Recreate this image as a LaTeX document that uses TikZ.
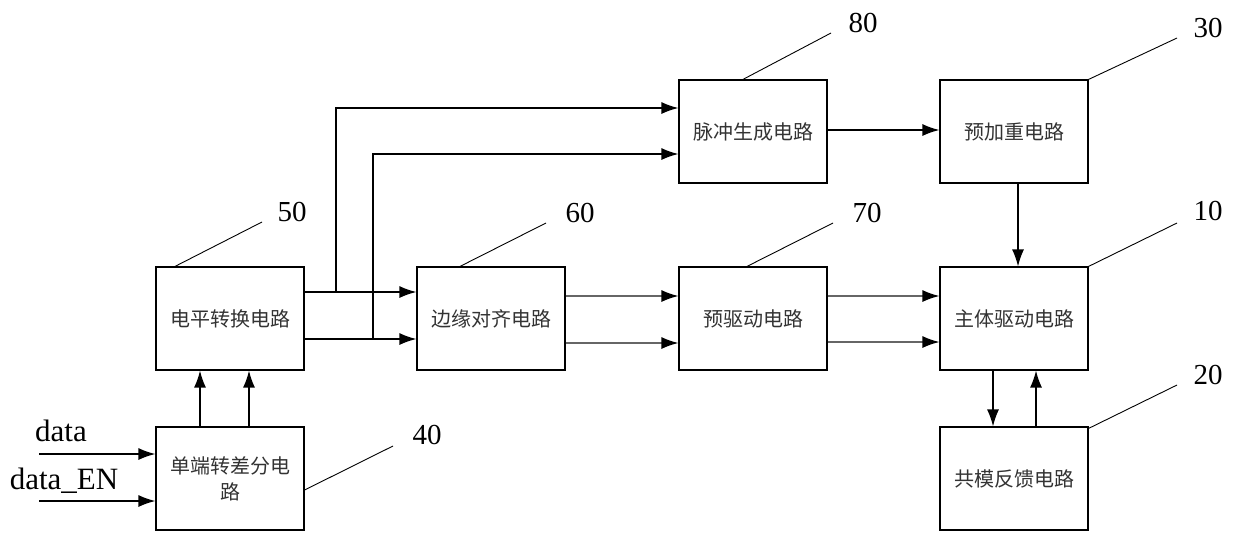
\documentclass[tikz,border=0pt]{standalone}
\usepackage{fontspec}
\setmainfont{Liberation Serif}
\newfontfamily\cjk{Noto Sans CJK SC}
\usetikzlibrary{arrows.meta}
\begin{document}
\begin{tikzpicture}[x=0.5pt,y=-0.5pt,
  blk/.style={draw=black,line width=0.6pt,minimum width=74pt,minimum height=51.5pt,inner sep=0pt,
    font=\cjk\fontsize{10}{13}\selectfont,text=black!80,align=center},
  arr/.style={line width=0.65pt,-{Latex[length=8.5pt,width=6pt,color=black]}},
  garr/.style={arr,draw=black!60},
  lead/.style={line width=0.45pt},
  num/.style={font=\fontsize{14.5}{16}\selectfont,inner sep=0pt},
  lbl/.style={font=\fontsize{15.5}{17}\selectfont,inner sep=0pt}]
\useasboundingbox (0,0) rectangle (1240,547);
% blocks
\node[blk] (n50) at (230,318.5) {电平转换电路};
\node[blk] (n60) at (491,318.5) {边缘对齐电路};
\node[blk] (n70) at (753,318.5) {预驱动电路};
\node[blk] (n10) at (1014,318.5) {主体驱动电路};
\node[blk] (n80) at (753,131.5) {脉冲生成电路};
\node[blk] (n30) at (1014,131.5) {预加重电路};
\node[blk] (n40) at (230,478.5) {单端转差分电\\路};
\node[blk] (n20) at (1014,478.5) {共模反馈电路};
% inputs
\coordinate (in1) at (39,454);
\coordinate (in2) at (39,501);
\node[lbl] (tdata) at (61,431) {data};
\node[lbl] (tdataen) at (64,481) {data\_EN};
\draw[arr] (in1) -- (n40.west |- in1);
\draw[arr] (in2) -- (n40.west |- in2);
% 40 -> 50
\draw[arr] (n40.north -| 200,0) -- (n50.south -| 200,0);
\draw[arr] (n40.north -| 249,0) -- (n50.south -| 249,0);
% 50 -> 60
\draw[arr] (n50.east |- 0,292) -- (n60.west |- 0,292);
\draw[arr] (n50.east |- 0,339) -- (n60.west |- 0,339);
% branches to 80
\coordinate (b1) at (336,292);
\coordinate (b2) at (373,339);
\draw[arr] (b1) |- (n80.west |- 0,108);
\draw[arr] (b2) |- (n80.west |- 0,154);
% 60 -> 70
\draw[garr] (n60.east |- 0,296) -- (n70.west |- 0,296);
\draw[garr] (n60.east |- 0,343) -- (n70.west |- 0,343);
% 70 -> 10
\draw[garr] (n70.east |- 0,296) -- (n10.west |- 0,296);
\draw[garr] (n70.east |- 0,342) -- (n10.west |- 0,342);
% 80 -> 30
\draw[arr] (n80.east |- 0,130) -- (n30.west |- 0,130);
% 30 -> 10
\draw[arr] (n30.south -| 1018,0) -- (n10.north -| 1018,0);
% 10 <-> 20
\draw[arr] (n10.south -| 993,0) -- (n20.north -| 993,0);
\draw[arr] (n20.north -| 1036,0) -- (n10.south -| 1036,0);
% leaders and numbers
\coordinate (l50) at (262,222); \node[num] (t50) at (292,212) {50};
\coordinate (l60) at (546,223); \node[num] (t60) at (580,213) {60};
\coordinate (l70) at (833,223); \node[num] (t70) at (867,213) {70};
\coordinate (l80) at (831,33);  \node[num] (t80) at (863,23) {80};
\coordinate (l30) at (1177,38); \node[num] (t30) at (1208,28) {30};
\coordinate (l10) at (1177,223); \node[num] (t10) at (1208,211) {10};
\coordinate (l20) at (1177,385); \node[num] (t20) at (1208,375) {20};
\coordinate (l40) at (393,446); \node[num] (t40) at (427,435) {40};
\draw[lead] (n50.north -| 175,0) -- (l50);
\draw[lead] (n60.north -| 460,0) -- (l60);
\draw[lead] (n70.north -| 747,0) -- (l70);
\draw[lead] (n80.north -| 743,0) -- (l80);
\draw[lead] (n30.north east) -- (l30);
\draw[lead] (n10.north east) -- (l10);
\draw[lead] (n20.north east) ++(0,2) -- (l20);
\draw[lead] (n40.east |- 0,490) -- (l40);
\end{tikzpicture}
\end{document}
